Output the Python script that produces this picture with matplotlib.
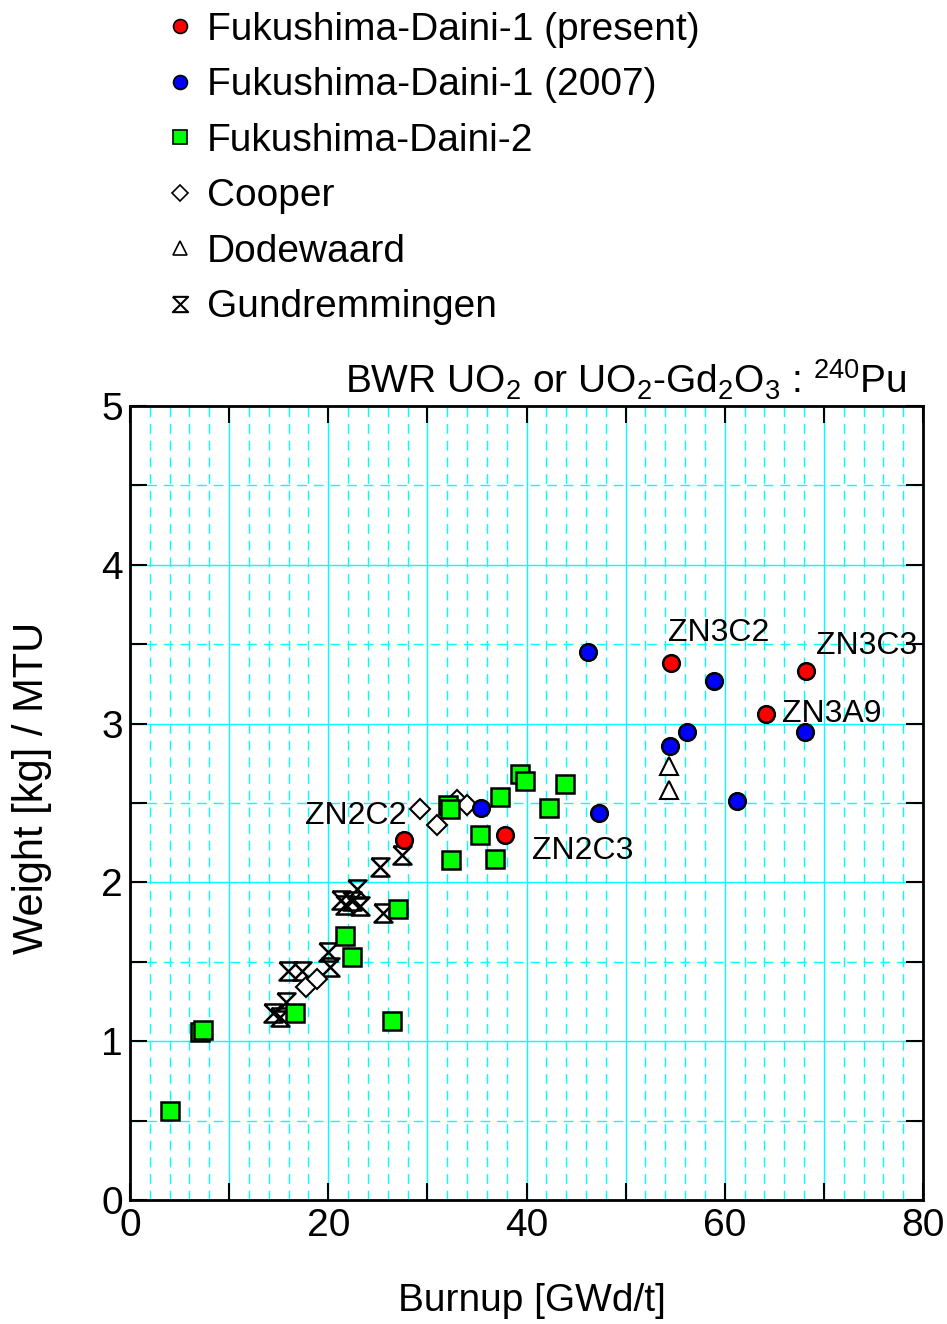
import numpy as np
import matplotlib
matplotlib.use("Agg")
from matplotlib import pyplot as plt
from matplotlib.ticker import MultipleLocator, FuncFormatter
from matplotlib.lines import Line2D

plt.rcParams['font.family'] = ['Liberation Sans', 'DejaVu Sans']
plt.rcParams['mathtext.fontset'] = 'custom'
plt.rcParams['mathtext.rm'] = 'Liberation Sans'
plt.rcParams['mathtext.it'] = 'Liberation Sans:italic'

# data (burnup GWd/t, Pu-240 kg/MTU)
red_x = [27.6, 37.8, 54.6, 64.2, 68.2]
red_y = [2.27, 2.30, 3.38, 3.06, 3.33]
red_names = ['ZN2C2', 'ZN2C3', 'ZN3C2', 'ZN3A9', 'ZN3C3']

blue_x = [46.2, 35.4, 47.3, 54.5, 56.2, 58.9, 61.2, 68.1]
blue_y = [3.45, 2.47, 2.44, 2.86, 2.95, 3.27, 2.51, 2.95]

green_x = [4.0, 7.1, 7.4, 16.6, 26.4, 22.4, 21.7, 27.0, 32.4, 32.1, 32.3, 35.3, 36.8, 37.3, 39.3, 39.8, 42.3, 43.9]
green_y = [0.56, 1.06, 1.07, 1.18, 1.13, 1.53, 1.66, 1.83, 2.14, 2.49, 2.46, 2.30, 2.15, 2.54, 2.68, 2.64, 2.47, 2.62]

cooper_x = [17.8, 18.9, 29.3, 31.0, 33.0, 34.0]
cooper_y = [1.34, 1.39, 2.46, 2.36, 2.52, 2.49]

dode_x = [54.4, 54.4]
dode_y = [2.73, 2.58]

gund_x = [14.4, 15.1, 15.7, 15.9, 17.4, 20.0, 20.2, 21.3, 21.7, 22.4, 22.9, 23.2, 25.2, 25.5, 27.4]
gund_y = [1.18, 1.15, 1.25, 1.44, 1.44, 1.56, 1.47, 1.89, 1.86, 1.88, 1.96, 1.85, 2.10, 1.81, 2.17]

# label positions (left edge, centre)
lab_x = [17.7, 40.6, 54.3, 65.8, 69.2]
lab_y = [2.42, 2.20, 3.57, 3.06, 3.49]

hourglass = [(-1, 1), (1, 1), (-1, -1), (1, -1), (-1, 1)]

fig = plt.figure(figsize=(9.47, 13.24), dpi=100)
ax = fig.add_axes([130/947, 1-1200/1324, 793/947, 794/1324])

cyan = '#00FFFF'
ax.set_xlim(0, 80)
ax.set_ylim(0, 5)
ax.xaxis.set_major_locator(MultipleLocator(10))
ax.xaxis.set_minor_locator(MultipleLocator(2))
ax.yaxis.set_major_locator(MultipleLocator(1))
ax.yaxis.set_minor_locator(MultipleLocator(0.5))
ax.xaxis.set_major_formatter(FuncFormatter(lambda v, p: '%d' % v if int(round(v)) % 20 == 0 else ''))
ax.grid(which='major', color=cyan, lw=1.0, ls='-')
ax.grid(which='minor', color=cyan, lw=1.0, ls=(0, (7, 5)))
ax.set_axisbelow(True)
ax.tick_params(which='both', direction='in', top=True, right=True, width=1.5, labelsize=28)
ax.tick_params(axis='x', which='major', length=12, pad=6)
ax.tick_params(axis='x', which='minor', length=0)
ax.tick_params(axis='y', which='both', length=12, pad=5)
for s in ax.spines.values():
    s.set_linewidth(2)

ax.plot(gund_x, gund_y, ls='none', marker=hourglass, ms=13, mfc='none', mec='k', mew=1.8)
ax.plot(dode_x, dode_y, ls='none', marker='^', ms=13, mfc='white', mec='k', mew=1.5)
ax.plot(cooper_x, cooper_y, ls='none', marker='D', ms=10, mfc='white', mec='k', mew=1.5)
ax.plot(green_x, green_y, ls='none', marker='s', ms=13, mfc='#00FF00', mec='k', mew=1.8)
ax.plot(blue_x, blue_y, ls='none', marker='o', ms=12, mfc='#0000FF', mec='k', mew=1.8)
ax.plot(red_x, red_y, ls='none', marker='o', ms=12, mfc='#FF0000', mec='k', mew=1.8)

for name, tx, ty in zip(red_names, lab_x, lab_y):
    ax.text(tx, ty, name, fontsize=23, ha='left', va='center')

ax.text(0.98, 1.005, r'BWR UO$_2$ or UO$_2$-Gd$_2$O$_3$ : $^{240}$Pu', transform=ax.transAxes,
        ha='right', va='bottom', fontsize=28)
ax.set_xlabel('Burnup [GWd/t]', fontsize=28)
ax.set_ylabel('Weight [kg] / MTU', fontsize=30)
ax.xaxis.set_label_coords(0.507, -0.105)
ax.yaxis.set_label_coords(-0.098, 0.519)

handles = [
    Line2D([], [], ls='none', marker='o', ms=10, mfc='#FF0000', mec='k', mew=1.2),
    Line2D([], [], ls='none', marker='o', ms=10, mfc='#0000FF', mec='k', mew=1.2),
    Line2D([], [], ls='none', marker='s', ms=10, mfc='#00FF00', mec='k', mew=1.2),
    Line2D([], [], ls='none', marker='D', ms=8, mfc='white', mec='k', mew=1.2),
    Line2D([], [], ls='none', marker='^', ms=10, mfc='white', mec='k', mew=1.2),
    Line2D([], [], ls='none', marker=hourglass, ms=11, mfc='none', mec='k', mew=1.5),
]
labels = ['Fukushima-Daini-1 (present)', 'Fukushima-Daini-1 (2007)', 'Fukushima-Daini-2',
          'Cooper', 'Dodewaard', 'Gundremmingen']
fig.legend(handles, labels, loc='upper left', bbox_to_anchor=(168/947, 1-12/1324), frameon=False,
           fontsize=28, handlelength=0.6, handletextpad=0.4, labelspacing=0.5, borderpad=0,
           borderaxespad=0)

fig.savefig('out.png', dpi=100)
